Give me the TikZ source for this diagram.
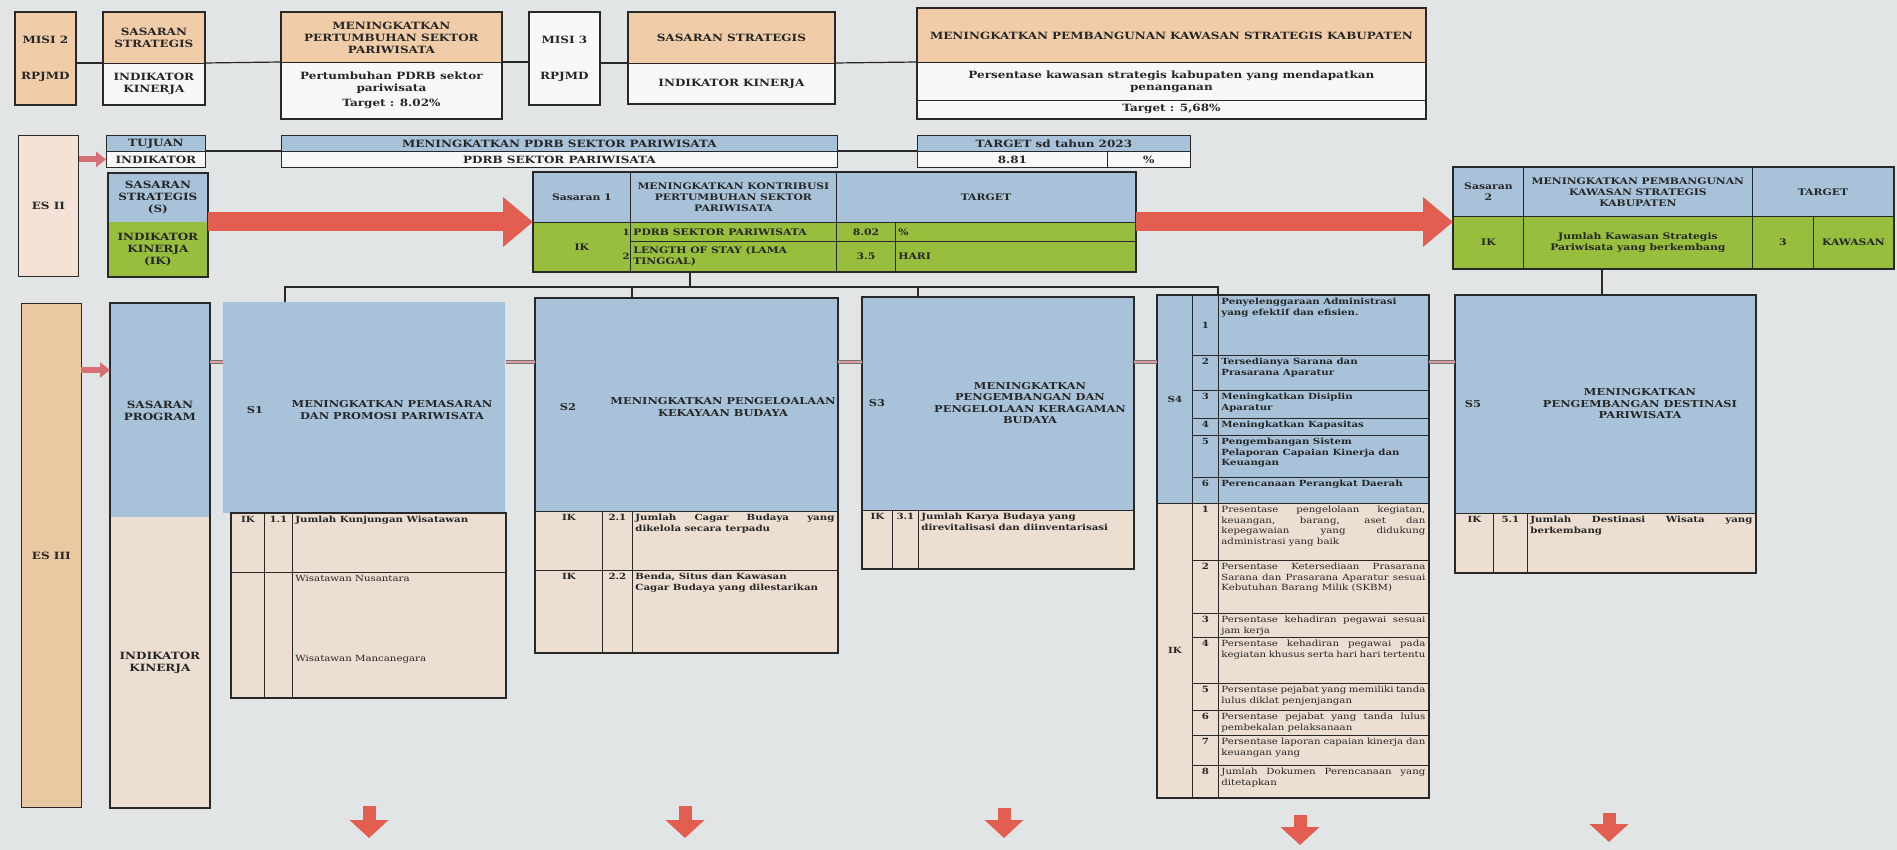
\documentclass[tikz,border=0pt]{standalone}
\usepackage{fontspec}
\setmainfont{DejaVu Serif}[FakeStretch=1.2]
\usetikzlibrary{arrows.meta}

\definecolor{bgpaper}{RGB}{226,229,229}
\definecolor{misitan}{RGB}{240,205,168}
\definecolor{esiifill}{RGB}{243,226,213}
\definecolor{esiiifill}{RGB}{234,200,162}
\definecolor{progblue}{RGB}{168,195,217}
\definecolor{progtan}{RGB}{236,222,209}
\definecolor{ikgreen}{RGB}{152,190,62}
\definecolor{cellwhite}{RGB}{248,248,246}
\definecolor{arrowred}{RGB}{226,94,80}
\definecolor{arrowpink}{RGB}{214,112,118}
\definecolor{inkline}{RGB}{40,40,40}

\hyphenpenalty=10000
\exhyphenpenalty=10000
\tolerance=9999

\tikzset{
    cell/.style = {
      anchor=north west, inner sep=3pt, draw=inkline, line width=0.8pt,
      text=black!85, font=\bfseries\fontsize{9}{11}\selectfont,
    },
    head text/.style = {font=\bfseries\fontsize{10}{12}\selectfont},
    mid text/.style = {font=\bfseries\fontsize{9}{11}\selectfont},
    body text/.style = {font=\bfseries\fontsize{8.5}{10.5}\selectfont},
    small text/.style = {font=\fontsize{8.5}{10.5}\selectfont},
    left text/.style = {execute at begin node={\let\cellalign\raggedright}},
    justify text/.style = {execute at begin node={\let\cellalign\relax}},
    s title/.style = {inner sep=0pt, align=center, text=black!85,
      font=\bfseries\fontsize{9.5}{11.5}\selectfont},
    num/.style = {inner sep=1pt, text=black!85, font=\bfseries\fontsize{8.5}{10}\selectfont},
    outer frame/.style = {draw=inkline, line width=1.6pt},
    link/.style = {draw=inkline, line width=1.2pt},
    big arrow/.style = {line width=19pt, draw=arrowred,
      arrows={-Triangle[length=30pt, width=48pt]}},
    small arrow/.style = {line width=6pt, draw=arrowpink,
      arrows={-Triangle[length=10pt, width=15pt]}},
    down arrow/.style = {line width=13pt, draw=arrowred,
      arrows={-Triangle[length=18pt, width=38pt]}},
    stub/.style = {line width=1.2pt, draw=black!55, double=arrowpink!70,
      double distance=2.5pt},
}

\newcommand{\cellalign}{\centering}
%% A table cell, text centred vertically:
%%    [style] name, left, top, width, height, text
\newcommand{\cellc}[7][]{%
  \node [cell, #1] (#2) at (#3, #4)
    {\parbox[c][\dimexpr#6pt-6pt\relax][c]{\dimexpr#5pt-6pt\relax}{\cellalign\leavevmode #7\par}};%
}
%% The same, text at the top of the cell
\newcommand{\cellt}[7][]{%
  \node [cell, #1] (#2) at (#3, #4)
    {\parbox[c][\dimexpr#6pt-6pt\relax][t]{\dimexpr#5pt-6pt\relax}{\cellalign\leavevmode #7\par}};%
}

\begin{document}
\begin{tikzpicture}[x=1pt, y=-1pt]
    %% Paper and page size
    \fill [bgpaper] (0,0) rectangle (1897,850);
    \useasboundingbox (0,0) rectangle (1897,850);

    %% Misi, sasaran strategis and indikator kinerja of the RPJMD
    \cellc[fill=misitan, head text]{m2}{15}{12}{60}{92}{MISI 2\\[24pt]RPJMD}
    \cellc[fill=misitan, head text]{ss1a}{103}{12}{101}{51}{SASARAN\\STRATEGIS}
    \cellc[fill=cellwhite, head text]{ss1b}{103}{63}{101}{41}{INDIKATOR\\KINERJA}
    \cellc[fill=misitan, head text]{p1a}{281}{12}{220}{50}{MENINGKATKAN\\PERTUMBUHAN SEKTOR\\PARIWISATA}
    \cellc[fill=cellwhite, head text]{p1b}{281}{62}{220}{56}{Pertumbuhan PDRB sektor\\pariwisata\\[3pt]Target : 8.02\%}
    \cellc[fill=cellwhite, head text]{m3}{529}{12}{70}{92}{MISI 3\\[24pt]RPJMD}
    \cellc[fill=misitan, head text]{ss2a}{628}{12}{206}{51}{SASARAN STRATEGIS}
    \cellc[fill=cellwhite, head text]{ss2b}{628}{63}{206}{40}{INDIKATOR KINERJA}
    \cellc[fill=misitan, head text]{p2a}{917}{8}{508}{54}{MENINGKATKAN PEMBANGUNAN KAWASAN STRATEGIS KABUPATEN}
    \cellc[fill=cellwhite, head text]{p2b}{917}{62}{508}{38}{Persentase kawasan strategis kabupaten yang mendapatkan\\penanganan}
    \cellc[fill=cellwhite, head text]{p2c}{917}{100}{508}{18}{Target : 5,68\%}
    \draw [outer frame] (m2.north west) rectangle (m2.south east);
    \draw [outer frame] (ss1a.north west) rectangle (ss1b.south east);
    \draw [outer frame] (p1a.north west) rectangle (p1b.south east);
    \draw [outer frame] (m3.north west) rectangle (m3.south east);
    \draw [outer frame] (ss2a.north west) rectangle (ss2b.south east);
    \draw [outer frame] (p2a.north west) rectangle (p2c.south east);
    \draw [link] (m2.east |- ss1b.north) -- (ss1b.north west);
    \draw [link] (ss1b.north east) -- (p1b.north west);
    \draw [link] (p1b.north east) -- (m3.west |- p1b.north);
    \draw [link] (m3.east |- ss2b.north) -- (ss2b.north west);
    \draw [link] (ss2b.north east) -- (p2b.north west);

    %% Tujuan row
    \cellc[fill=esiifill, head text]{esii}{18}{135}{60}{141}{ES II}
    \cellc[fill=progblue, head text]{tja}{106}{135}{99}{16}{TUJUAN}
    \cellc[fill=cellwhite, head text]{tjb}{106}{151}{99}{16}{INDIKATOR}
    \cellc[fill=progblue, head text]{tj2a}{281}{135}{556}{16}{MENINGKATKAN PDRB SEKTOR PARIWISATA}
    \cellc[fill=cellwhite, head text]{tj2b}{281}{151}{556}{16}{PDRB SEKTOR PARIWISATA}
    \cellc[fill=progblue, head text]{tga}{917}{135}{273}{16}{TARGET sd tahun 2023}
    \cellc[fill=cellwhite, head text]{tgb}{917}{151}{190}{16}{8.81}
    \cellc[fill=cellwhite, head text]{tgc}{1107}{151}{83}{16}{\%}
    \draw [link] (tjb.north east) -- (tj2b.north west);
    \draw [link] (tj2b.north east) -- (tgb.north west);
    \draw [small arrow] (esii.east |- tjb.west) -- (tjb.west);

    %% Sasaran strategis and the two sasaran tables
    \cellc[fill=progblue, draw=none, head text]{ssk}{108}{173}{99}{49}{SASARAN\\STRATEGIS\\(S)}
    \cellc[fill=ikgreen, draw=none, head text]{ikk}{108}{222}{99}{54}{INDIKATOR\\KINERJA\\(IK)}
    \draw [outer frame] (ssk.north west) rectangle (ikk.south east);

    \cellc[fill=progblue, mid text]{t1a}{533}{172}{97}{50}{Sasaran 1}
    \cellc[fill=progblue, mid text]{t1b}{630}{172}{206}{50}{MENINGKATKAN KONTRIBUSI\\PERTUMBUHAN SEKTOR\\PARIWISATA}
    \cellc[fill=progblue, mid text]{t1c}{836}{172}{299}{50}{TARGET}
    \cellc[fill=ikgreen, mid text]{t1ik}{533}{222}{97}{49}{IK}
    \cellc[fill=ikgreen, mid text, left text]{t1r1}{630}{222}{206}{19}{PDRB SEKTOR PARIWISATA}
    \cellc[fill=ikgreen, mid text]{t1v1}{836}{222}{59}{19}{8.02}
    \cellc[fill=ikgreen, mid text, left text]{t1u1}{895}{222}{240}{19}{\%}
    \cellc[fill=ikgreen, mid text, left text]{t1r2}{630}{241}{206}{30}{LENGTH OF STAY (LAMA\\TINGGAL)}
    \cellc[fill=ikgreen, mid text]{t1v2}{836}{241}{59}{30}{3.5}
    \cellc[fill=ikgreen, mid text, left text]{t1u2}{895}{241}{240}{30}{HARI}
    \node [num, anchor=east] (t1n1) at (t1ik.east |- t1r1.center) {1};
    \node [num, anchor=east] (t1n2) at (t1ik.east |- t1r2.center) {2};
    \draw [outer frame] (t1a.north west) rectangle (t1u2.south east);

    \cellc[fill=progblue, mid text]{t2a}{1453}{167}{70}{49}{Sasaran\\2}
    \cellc[fill=progblue, mid text]{t2b}{1523}{167}{229}{49}{MENINGKATKAN PEMBANGUNAN\\KAWASAN STRATEGIS\\KABUPATEN}
    \cellc[fill=progblue, mid text]{t2c}{1752}{167}{141}{49}{TARGET}
    \cellc[fill=ikgreen, mid text]{t2ik}{1453}{216}{70}{52}{IK}
    \cellc[fill=ikgreen, mid text]{t2r}{1523}{216}{229}{52}{Jumlah Kawasan Strategis\\Pariwisata yang berkembang}
    \cellc[fill=ikgreen, mid text]{t2v}{1752}{216}{61}{52}{3}
    \cellc[fill=ikgreen, mid text]{t2u}{1813}{216}{80}{52}{KAWASAN}
    \draw [outer frame] (t2a.north west) rectangle (t2u.south east);

    \draw [big arrow] (ikk.north east) -- (ikk.north east -| t1ik.west);
    \draw [big arrow] (t1u1.north east) -- (t1u1.north east -| t2ik.west);

    %% Program level: ES III and the sasaran program columns
    \cellc[fill=esiiifill, head text]{esiii}{21}{303}{60}{504}{ES III}
    \cellc[fill=progblue, draw=none, head text]{spa}{110}{303}{99}{214}{SASARAN\\PROGRAM}
    \cellc[fill=progtan, draw=none, head text]{spb}{110}{517}{99}{290}{INDIKATOR\\KINERJA}
    \draw [outer frame] (spa.north west) rectangle (spb.south east);
    \coordinate (es3_out) at (81,370);
    \draw [small arrow] (es3_out) -- (es3_out -| spa.west);

    %% S1
    \cellc[fill=progblue, draw=none]{s1}{223}{302}{282}{211}{}
    \node [s title] (s1_no) at (255,410) {S1};
    \node [s title] (s1_title) at (392,410) {MENINGKATKAN PEMASARAN\\DAN PROMOSI PARIWISATA};
    \cellt[fill=progtan, body text]{s1_ik}{231}{513}{33}{59}{IK}
    \cellt[fill=progtan, body text]{s1_no1}{264}{513}{28}{59}{1.1}
    \cellt[fill=progtan, body text, justify text]{s1_ind}{292}{513}{213}{59}{Jumlah Kunjungan Wisatawan}
    \cellt[fill=progtan, body text]{s1_ik2}{231}{572}{33}{125}{}
    \cellt[fill=progtan, body text]{s1_no2}{264}{572}{28}{125}{}
    \cellt[fill=progtan, small text, left text]{s1_ind2}{292}{572}{213}{125}{Wisatawan Nusantara\\[69pt]Wisatawan Mancanegara}
    \draw [outer frame] (s1_ik.north west) rectangle (s1_ind2.south east);

    %% S2
    \cellc[fill=progblue]{s2}{535}{298}{302}{213}{}
    \node [s title] (s2_no) at (568,407) {S2};
    \node [s title] (s2_title) at (723,407) {MENINGKATKAN PENGELOALAAN\\KEKAYAAN BUDAYA};
    \cellt[fill=progtan, body text]{s2_ik1}{535}{511}{67}{59}{IK}
    \cellt[fill=progtan, body text]{s2_no1}{602}{511}{30}{59}{2.1}
    \cellt[fill=progtan, body text, justify text]{s2_ind1}{632}{511}{205}{59}{Jumlah Cagar Budaya yang dikelola secara terpadu}
    \cellt[fill=progtan, body text]{s2_ik2}{535}{570}{67}{82}{IK}
    \cellt[fill=progtan, body text]{s2_no2}{602}{570}{30}{82}{2.2}
    \cellt[fill=progtan, body text, left text]{s2_ind2}{632}{570}{205}{82}{Benda, Situs dan Kawasan\\Cagar Budaya yang dilestarikan}
    \draw [outer frame] (s2.north west) rectangle (s2_ind2.south east);

    %% S3
    \cellc[fill=progblue]{s3}{862}{297}{271}{213}{}
    \node [s title] (s3_no) at (877,403) {S3};
    \node [s title] (s3_title) at (1030,403) {MENINGKATKAN\\PENGEMBANGAN DAN\\PENGELOLAAN KERAGAMAN\\BUDAYA};
    \cellt[fill=progtan, body text]{s3_ik}{862}{510}{30}{58}{IK}
    \cellt[fill=progtan, body text]{s3_no1}{892}{510}{26}{58}{3.1}
    \cellt[fill=progtan, body text, left text]{s3_ind}{918}{510}{215}{58}{Jumlah Karya Budaya yang\\direvitalisasi dan diinventarisasi}
    \draw [outer frame] (s3.north west) rectangle (s3_ind.south east);

    %% S4, one row per sasaran and per indikator
    \cellc[fill=progblue, body text]{s4a}{1157}{295}{35}{208}{S4}
    \cellc[fill=progtan, body text]{s4b}{1157}{503}{35}{294}{IK}
    \cellc[fill=progblue, body text]{s4_no1}{1192}{295}{26}{60}{1}
    \cellt[fill=progblue, body text, left text]{s4_sp1}{1218}{295}{210}{60}{Penyelenggaraan Administrasi\\yang efektif dan efisien.}
    \foreach \n/\y/\h/\txt in {
        2/355/35/{Tersedianya Sarana dan\\Prasarana Aparatur},
        3/390/28/{Meningkatkan Disiplin\\Aparatur},
        4/418/17/{Meningkatkan Kapasitas},
        5/435/42/{Pengembangan Sistem\\Pelaporan Capaian Kinerja dan\\Keuangan},
        6/477/26/{Perencanaan Perangkat Daerah}}{%
      \cellt[fill=progblue, body text]{s4_no\n}{1192}{\y}{26}{\h}{\n}
      \cellt[fill=progblue, body text, left text]{s4_sp\n}{1218}{\y}{210}{\h}{\txt}
    }
    \foreach \n/\y/\h/\txt in {
        1/503/57/{Presentase pengelolaan kegiatan, keuangan, barang, aset dan kepegawaian yang didukung administrasi yang baik},
        2/560/53/{Persentase Ketersediaan Prasarana Sarana dan Prasarana Aparatur sesuai Kebutuhan Barang Milik (SKBM)},
        3/613/24/{Persentase kehadiran pegawai sesuai jam kerja},
        4/637/46/{Persentase kehadiran pegawai pada kegiatan khusus serta hari hari tertentu},
        5/683/27/{Persentase pejabat yang memiliki tanda lulus diklat penjenjangan},
        6/710/25/{Persentase pejabat yang tanda lulus pembekalan pelaksanaan},
        7/735/30/{Persentase laporan capaian kinerja dan keuangan yang},
        8/765/32/{Jumlah Dokumen Perencanaan yang ditetapkan}}{%
      \cellt[fill=progtan, body text]{s4_ik_no\n}{1192}{\y}{26}{\h}{\n}
      \cellt[fill=progtan, small text, justify text]{s4_ik\n}{1218}{\y}{210}{\h}{\txt}
    }
    \draw [outer frame] (s4a.north west) rectangle (s4_ik8.south east);

    %% S5
    \cellc[fill=progblue]{s5}{1455}{295}{300}{218}{}
    \node [s title] (s5_no) at (1473,404) {S5};
    \node [s title] (s5_title) at (1640,404) {MENINGKATKAN\\PENGEMBANGAN DESTINASI\\PARIWISATA};
    \cellt[fill=progtan, body text]{s5_ik}{1455}{513}{38}{59}{IK}
    \cellt[fill=progtan, body text]{s5_no1}{1493}{513}{34}{59}{5.1}
    \cellt[fill=progtan, body text, justify text]{s5_ind}{1527}{513}{228}{59}{Jumlah Destinasi Wisata yang berkembang}
    \draw [outer frame] (s5.north west) rectangle (s5_ind.south east);

    %% Tree from the sasaran tables down to the program boxes
    \coordinate (bus_top) at (690,287);
    \coordinate (bus_left) at (285,287);
    \coordinate (bus_right) at (1218,287);
    \coordinate (drop_s2) at (632,287);
    \coordinate (drop_s3) at (918,287);
    \coordinate (drop_s5) at (1602,287);
    \draw [link] (bus_top |- t1r2.south) -- (bus_top);
    \draw [link] (bus_left |- s1.north) -- (bus_left) -- (bus_right) -- (bus_right |- s4a.north);
    \draw [link] (drop_s2) -- (drop_s2 |- s2.north);
    \draw [link] (drop_s3) -- (drop_s3 |- s3.north);
    \draw [link] (drop_s5 |- t2r.south) -- (drop_s5 |- s5.north);

    %% Short joints between the program boxes
    \coordinate (joint_y) at (0,362);
    \draw [stub] (spa.east |- joint_y) -- (s1.west |- joint_y);
    \draw [stub] (s1.east |- joint_y) -- (s2.west |- joint_y);
    \draw [stub] (s2.east |- joint_y) -- (s3.west |- joint_y);
    \draw [stub] (s3.east |- joint_y) -- (s4a.west |- joint_y);
    \draw [stub] (s4_sp2.east |- joint_y) -- (s5.west |- joint_y);

    %% Arrows going on below each column
    \foreach \x/\a/\b [count=\i] in {369/806/838, 685/806/838, 1004/808/838, 1300/815/845, 1609/813/842}{%
      \coordinate (down_\i_a) at (\x,\a);
      \coordinate (down_\i_b) at (\x,\b);
      \draw [down arrow] (down_\i_a) -- (down_\i_b);
    }
\end{tikzpicture}
\end{document}
